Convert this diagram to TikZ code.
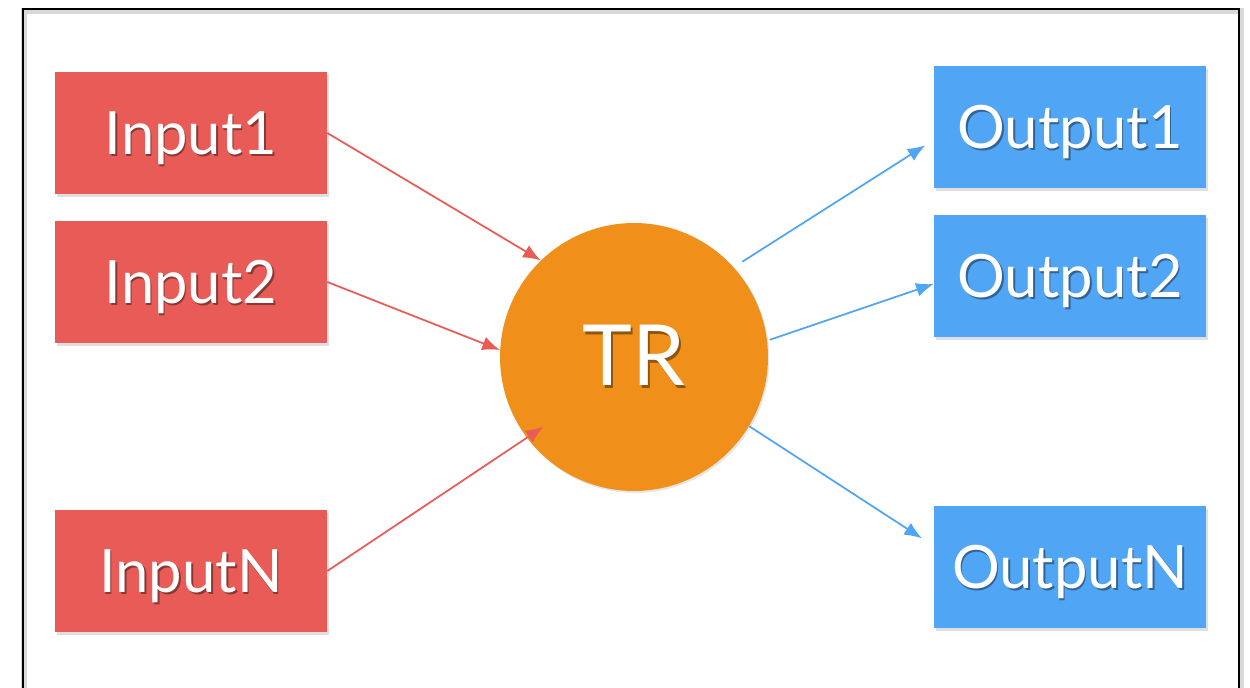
\documentclass[tikz,border=0pt]{standalone}
\usepackage{fontspec}
\setmainfont{Lato}
\usetikzlibrary{arrows.meta,shadows}
\definecolor{inred}{HTML}{E85B57}
\definecolor{outblue}{HTML}{51A5F5}
\definecolor{trorange}{HTML}{F0901A}
\newcommand\shtext[2]{\rlap{\kern0.9pt\raisebox{-1.4pt}{\textcolor{#1}{#2}}}#2}
\begin{document}
\begin{tikzpicture}[x=0.02cm,y=-0.02cm,
    inbox/.style={fill=inred,minimum width=5.44cm,minimum height=2.46cm,text=white,text height=0.86cm,text depth=0pt,font=\fontsize{34}{40}\selectfont,drop shadow={opacity=0.25,shadow xshift=0.04cm,shadow yshift=-0.06cm}},
    outbox/.style={inbox,fill=outblue},
    inarrow/.style={draw=inred,line width=1pt,-{Latex[length=10pt,width=8pt]}},
    outarrow/.style={inarrow,draw=outblue}]
    \useasboundingbox (0,0) rectangle (1250,688);
    \begin{scope}
      \clip (0,0) rectangle (1250,688);
      \draw[black!15,line width=3pt] (24,11) rectangle (1241,720);
      \draw[black,line width=1.2pt] (23,9) rectangle (1239,720);
    \end{scope}
    \node [inbox] (in1) at (191,133) {\shtext{inred!60!black}{Input1}};
    \node [inbox] (in2) at (191,282) {\shtext{inred!60!black}{Input2}};
    \node [inbox] (inN) at (191,571) {\shtext{inred!60!black}{InputN}};
    \node [outbox] (out1) at (1070,127) {\shtext{outblue!60!black}{Output1}};
    \node [outbox] (out2) at (1070,276) {\shtext{outblue!60!black}{Output2}};
    \node [outbox] (outN) at (1070,567) {\shtext{outblue!60!black}{OutputN}};
    \node [circle,fill=trorange,minimum size=5.36cm,text=white,font=\fontsize{48}{52}\selectfont,drop shadow={opacity=0.2,shadow xshift=0.03cm,shadow yshift=-0.04cm}] (tr) at (634,357) {\shtext{trorange!60!black}{TR}};
    \draw [inarrow] (in1.east) -- (tr.134);
    \draw [inarrow] (in2.east) -- (tr.177);
    \draw [inarrow,shorten >=-0.4cm] (inN.east) -- (tr.217);
    \draw [outarrow,shorten <=0.2cm,shorten >=0.2cm] (tr.42) -- ([yshift=-0.26cm]out1.west);
    \draw [outarrow,shorten <=0.05cm] (tr.7) -- ([yshift=-0.16cm]out2.west);
    \draw [outarrow,shorten >=0.28cm] (tr.-31) -- ([yshift=0.42cm]outN.west);
\end{tikzpicture}
\end{document}
